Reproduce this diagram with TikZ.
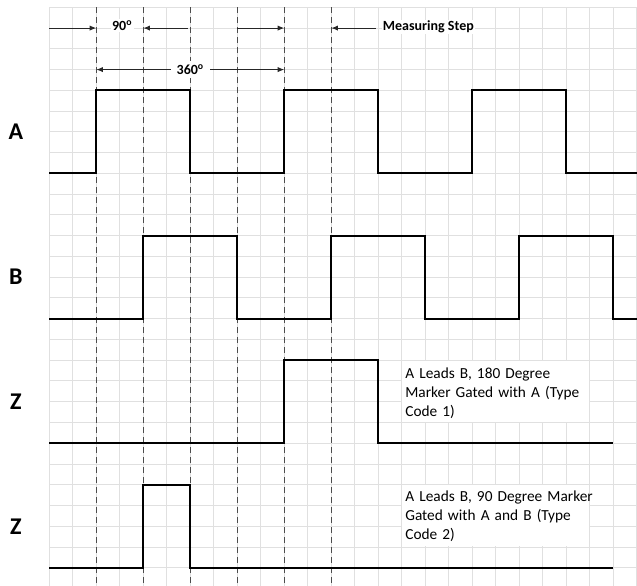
\documentclass[tikz,border=0pt]{standalone}
\usepackage{fontspec}
\setmainfont{Carlito}
\usetikzlibrary{positioning,arrows.meta}

\tikzset{
  gridline/.style={draw=black!12, line width=0.75pt},
  phaseline/.style={draw=black!70, line width=0.75pt, dash pattern=on 4.5pt off 3pt},
  wave/.style={line width=1.4pt, line join=miter},
  dimarrow/.style={draw=black!85, line width=0.75pt, -{Latex[length=5pt,width=4pt]}},
  sig/.style={font=\fontsize{18}{20}\selectfont\bfseries, inner sep=0pt},
  tag/.style={font=\fontsize{10.5}{12}\selectfont\bfseries, inner sep=1pt, fill=white},
  notebox/.style={fill=white, inner sep=0pt, minimum width=140pt, minimum height=45.7pt},
  notetext/.style={font=\fontsize{11.5}{14.4}\selectfont, align=left, text width=150pt, inner sep=0pt, anchor=base west}
}

\begin{document}
\begin{tikzpicture}[x=17.625pt, y=15.57pt]
	\useasboundingbox (-2.098,0.352) rectangle (25.009,-27.876);
	% grid
	\foreach \r in {0,...,27}
		\draw[gridline] (0,-\r) -- (25.009,-\r);
	\foreach \c in {0,...,25}
		\draw[gridline] (\c,0) -- (\c,-27.876);
	% phase markers
	\foreach \c in {2,4,...,12}
		\draw[phaseline] (\c,0) -- (\c,-27.876);

	% signals
	\draw[wave] (0,-8) -- (2,-8) -- (2,-4) -- (6,-4) -- (6,-8) -- (10,-8) -- (10,-4) -- (14,-4) -- (14,-8) -- (18,-8) -- (18,-4) -- (22,-4) -- (22,-8) -- (25.009,-8);
	\draw[wave] (0,-15) -- (4,-15) -- (4,-11) -- (8,-11) -- (8,-15) -- (12,-15) -- (12,-11) -- (16,-11) -- (16,-15) -- (20,-15) -- (20,-11) -- (24,-11) -- (24,-15) -- (25.009,-15);
	\draw[wave] (0,-21) -- (10,-21) -- (10,-17) -- (14,-17) -- (14,-21) -- (24,-21);
	\draw[wave] (0,-27) -- (4,-27) -- (4,-23) -- (6,-23) -- (6,-27) -- (24,-27);

	\node[sig] (siga) at (-1.42,-6) {A};
	\node[sig] (sigb) at (-1.42,-13) {B};
	\node[sig] (sigz) at (-1.42,-19) {Z};
	\node[sig] (sigzz) at (-1.42,-25) {Z};

	% top dimensions
	\coordinate (m0) at (0,-1);
	\coordinate (m2) at (2,-1);
	\coordinate (m4) at (4,-1);
	\coordinate (m6) at (5.9,-1);
	\coordinate (m8) at (8,-1);
	\coordinate (m10) at (10,-1);
	\coordinate (m12) at (12,-1);
	\coordinate (m14) at (13.9,-1);
	\draw[dimarrow] (m0) -- (m2);
	\draw[dimarrow] (m6) -- (m4);
	\draw[dimarrow] (m8) -- (m10);
	\draw[dimarrow] (m14) -- (m12);
	\node[tag, anchor=base] (quarter) at (3.1,-1.13) {90\textsuperscript{o}};
	\node[tag, anchor=base west] (mstep) at (14.13,-1.13) {Measuring Step};

	\coordinate (p2) at (2,-3);
	\coordinate (p10) at (10,-3);
	\draw[dimarrow, {Latex[length=5pt,width=4pt]}-{Latex[length=5pt,width=4pt]}] (p2) -- node[tag, inner xsep=4.4pt, inner ysep=2.5pt] (full) {360\textsuperscript{o}} (p10);

	% notes
	\node[notebox] (boxone) at (19,-18.5) {};
	\node[notetext] (noteone) at (15.14,-17.87) {A Leads B, 180 Degree\\Marker Gated with A (Type\\Code 1)};
	\node[notebox] (boxtwo) at (19,-24.5) {};
	\node[notetext] (notetwo) at (15.14,-23.81) {A Leads B, 90 Degree Marker\\Gated with A and B (Type\\Code 2)};
\end{tikzpicture}
\end{document}
